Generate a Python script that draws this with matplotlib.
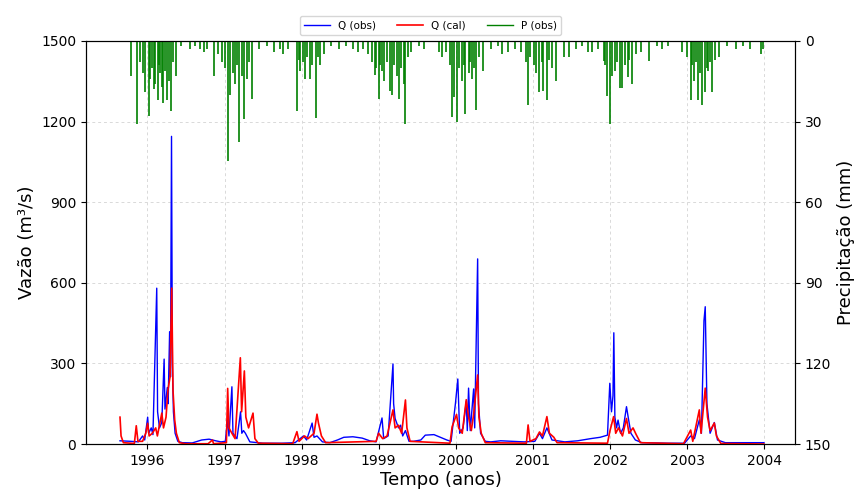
import matplotlib
matplotlib.use("Agg")
import matplotlib.pyplot as plt
import matplotlib.dates as mdates
import pandas as pd

# Observed discharge (m³/s)
q_obs_dates = [
    "1995-08-25", "1995-10-15", "1995-11-20", "1995-12-10", "1995-12-20",
    "1996-01-03", "1996-01-08", "1996-01-20", "1996-01-28", "1996-02-15",
    "1996-02-19", "1996-02-28", "1996-03-10", "1996-03-21", "1996-03-25",
    "1996-04-05", "1996-04-09", "1996-04-16", "1996-04-20", "1996-04-25",
    "1996-04-29", "1996-05-04", "1996-05-12", "1996-05-25", "1996-06-15",
    "1996-08-01", "1996-09-15", "1996-10-20", "1996-11-20", "1996-12-15",
    "1997-01-05", "1997-01-15", "1997-01-22", "1997-02-05", "1997-02-10",
    "1997-03-01", "1997-03-18", "1997-03-24", "1997-04-01", "1997-04-10",
    "1997-05-01", "1997-07-01", "1997-10-01", "1997-12-01", "1998-01-10",
    "1998-01-25", "1998-02-20", "1998-03-01", "1998-03-15", "1998-04-10",
    "1998-05-15", "1998-06-20", "1998-07-20", "1998-09-01", "1998-10-15",
    "1998-11-20", "1998-12-20", "1999-01-17", "1999-01-25", "1999-02-15",
    "1999-03-10", "1999-03-13", "1999-03-20", "1999-04-05", "1999-04-15",
    "1999-04-25", "1999-05-08", "1999-05-25", "1999-06-15", "1999-07-20",
    "1999-08-10", "1999-09-20", "1999-10-20", "1999-11-20", "1999-12-10",
    "1999-12-31", "2000-01-11", "2000-01-20", "2000-02-05", "2000-02-20",
    "2000-02-25", "2000-03-02", "2000-03-10", "2000-03-26", "2000-03-31",
    "2000-04-14", "2000-04-18", "2000-04-28", "2000-05-20", "2000-06-15",
    "2000-08-01", "2000-10-01", "2000-11-20", "2001-01-10", "2001-02-01",
    "2001-02-15", "2001-03-08", "2001-04-01", "2001-06-01", "2001-08-01",
    "2001-10-01", "2001-11-15", "2001-12-20", "2001-12-31", "2002-01-08",
    "2002-01-15", "2002-01-19", "2002-01-24", "2002-02-01", "2002-02-08",
    "2002-02-20", "2002-03-05", "2002-03-20", "2002-03-28", "2002-04-10",
    "2002-05-01", "2002-06-01", "2002-10-01", "2002-12-20", "2003-01-18",
    "2003-02-05", "2003-02-28", "2003-03-10", "2003-03-22", "2003-03-28",
    "2003-04-05", "2003-04-20", "2003-05-10", "2003-05-25", "2003-07-01",
    "2003-12-31",
]
q_obs = [
    12, 10, 8, 30, 15,
    100, 40, 60, 35, 580,
    120, 60, 80, 316, 130,
    210, 150, 418, 250, 1145,
    300, 120, 40, 10, 5,
    4, 15, 18, 12, 8,
    10, 90, 30, 213, 40,
    20, 120, 40, 50, 40,
    8, 3, 3, 5, 30,
    15, 78, 25, 30, 8,
    5, 15, 25, 27, 22,
    12, 8, 97, 20, 30,
    298, 150, 95, 60, 70,
    30, 50, 10, 10, 15,
    33, 35, 25, 15, 10,
    152, 242, 40, 60, 158,
    50, 208, 50, 205, 60,
    689, 150, 40, 10, 8,
    12, 10, 8, 10, 40,
    20, 60, 15, 8, 12,
    20, 25, 33, 226, 120,
    180, 414, 100, 60, 89,
    40, 60, 139, 100, 40,
    15, 5, 3, 3, 30,
    20, 90, 40, 459, 511,
    150, 40, 80, 15, 5,
    5,
]

# Calibrated (simulated) discharge (m³/s)
q_cal_dates = [
    "1995-08-25", "1995-08-30", "1995-09-10", "1995-11-01", "1995-11-10",
    "1995-11-18", "1995-12-10", "1995-12-25", "1996-01-03", "1996-01-10",
    "1996-01-25", "1996-02-10", "1996-02-18", "1996-03-10", "1996-03-18",
    "1996-03-30", "1996-04-08", "1996-04-18", "1996-04-26", "1996-05-02",
    "1996-05-10", "1996-05-18", "1996-06-01", "1996-07-01", "1996-10-15",
    "1996-11-05", "1996-11-10", "1997-01-10", "1997-01-16", "1997-01-22",
    "1997-02-05", "1997-02-20", "1997-03-17", "1997-03-23", "1997-04-05",
    "1997-04-12", "1997-04-25", "1997-05-16", "1997-05-25", "1997-06-10",
    "1997-11-20", "1997-12-10", "1997-12-20", "1998-01-15", "1998-02-01",
    "1998-03-01", "1998-03-15", "1998-03-22", "1998-04-05", "1998-04-25",
    "1998-12-20", "1999-01-01", "1999-01-20", "1999-02-10", "1999-03-10",
    "1999-03-20", "1999-04-05", "1999-04-20", "1999-05-08", "1999-05-15",
    "1999-05-30", "1999-12-05", "1999-12-15", "2000-01-05", "2000-01-15",
    "2000-02-01", "2000-02-20", "2000-03-02", "2000-03-15", "2000-03-26",
    "2000-04-14", "2000-04-20", "2000-05-01", "2000-05-20", "2000-12-01",
    "2000-12-09", "2000-12-18", "2001-01-15", "2001-02-01", "2001-02-15",
    "2001-03-08", "2001-03-20", "2001-04-10", "2001-04-25", "2001-12-20",
    "2002-01-01", "2002-01-18", "2002-01-28", "2002-02-10", "2002-03-01",
    "2002-03-20", "2002-04-01", "2002-04-20", "2002-05-05", "2002-05-25",
    "2002-12-15", "2003-01-18", "2003-01-28", "2003-02-28", "2003-03-08",
    "2003-03-28", "2003-04-08", "2003-04-20", "2003-05-10", "2003-05-20",
    "2003-06-10", "2003-12-31",
]
q_cal = [
    100, 30, 5, 2, 68,
    10, 10, 40, 77, 30,
    40, 60, 30, 115, 60,
    100, 200, 250, 580, 200,
    90, 40, 5, 1, 1,
    15, 1, 5, 207, 60,
    40, 20, 321, 120, 272,
    100, 60, 115, 20, 3,
    1, 46, 10, 30, 20,
    40, 111, 78, 30, 5,
    10, 40, 20, 30, 127,
    60, 70, 40, 164, 60,
    10, 3, 64, 110, 60,
    40, 165, 100, 50, 110,
    257, 100, 40, 5, 3,
    71, 10, 20, 45, 30,
    102, 40, 25, 5, 3,
    50, 102, 40, 60, 30,
    95, 40, 60, 35, 5,
    1, 52, 10, 127, 40,
    208, 100, 50, 78, 30,
    2, 0,
]

# Observed daily precipitation (mm)
p_dates = [
    "1995-10-17", "1995-11-13", "1995-11-29", "1995-12-13", "1995-12-22",
    "1996-01-07", "1996-01-15", "1996-01-23", "1996-01-31", "1996-02-08",
    "1996-02-19", "1996-02-25", "1996-03-03", "1996-03-10", "1996-03-15",
    "1996-03-24", "1996-04-03", "1996-04-12", "1996-04-22", "1996-05-01",
    "1996-05-17", "1996-06-10", "1996-07-20", "1996-08-15", "1996-09-05",
    "1996-09-25", "1996-10-10", "1996-11-10", "1996-12-03", "1996-12-20",
    "1997-01-01", "1997-01-16", "1997-01-28", "1997-02-09", "1997-02-21",
    "1997-03-02", "1997-03-13", "1997-03-23", "1997-04-05", "1997-04-18",
    "1997-04-29", "1997-05-11", "1997-06-15", "1997-07-20", "1997-08-25",
    "1997-09-20", "1997-10-07", "1997-10-30", "1997-12-10", "1997-12-19",
    "1997-12-26", "1998-01-07", "1998-01-19", "1998-01-28", "1998-02-08",
    "1998-02-21", "1998-03-12", "1998-03-21", "1998-03-31", "1998-04-15",
    "1998-05-20", "1998-06-25", "1998-07-30", "1998-09-01", "1998-09-25",
    "1998-10-20", "1998-11-10", "1998-12-02", "1998-12-13", "1998-12-21",
    "1999-01-01", "1999-01-09", "1999-01-17", "1999-01-28", "1999-02-10",
    "1999-02-22", "1999-03-06", "1999-03-17", "1999-03-27", "1999-04-06",
    "1999-04-16", "1999-04-30", "1999-05-08", "1999-05-20", "1999-06-04",
    "1999-07-10", "1999-08-05", "1999-10-13", "1999-10-29", "1999-11-15",
    "1999-12-05", "1999-12-15", "1999-12-26", "2000-01-08", "2000-01-18",
    "2000-02-01", "2000-02-09", "2000-02-16", "2000-03-03", "2000-03-10",
    "2000-03-19", "2000-03-30", "2000-04-08", "2000-04-22", "2000-05-10",
    "2000-06-15", "2000-07-20", "2000-08-08", "2000-09-07", "2000-10-10",
    "2000-11-05", "2000-11-29", "2000-12-09", "2000-12-20", "2001-01-05",
    "2001-01-17", "2001-01-29", "2001-02-11", "2001-02-19", "2001-03-09",
    "2001-03-20", "2001-04-03", "2001-04-22", "2001-05-26", "2001-06-22",
    "2001-07-25", "2001-08-20", "2001-09-20", "2001-10-09", "2001-11-03",
    "2001-12-03", "2001-12-10", "2001-12-17", "2001-12-30", "2002-01-10",
    "2002-01-23", "2002-02-03", "2002-02-15", "2002-02-28", "2002-03-12",
    "2002-03-25", "2002-04-03", "2002-04-13", "2002-05-02", "2002-05-26",
    "2002-07-04", "2002-08-10", "2002-09-05", "2002-10-01", "2002-12-09",
    "2002-12-30", "2003-01-18", "2003-01-26", "2003-02-03", "2003-02-13",
    "2003-02-23", "2003-03-04", "2003-03-14", "2003-03-27", "2003-04-04",
    "2003-04-12", "2003-04-21", "2003-04-28", "2003-05-13", "2003-05-30",
    "2003-07-10", "2003-08-20", "2003-09-25", "2003-10-25", "2003-12-16",
    "2003-12-28",
]
p_obs = [
    13, 31, 8, 12, 19,
    28, 14, 10, 18, 16,
    22, 9, 12, 17, 23,
    11, 22, 15, 26, 8,
    13, 2, 3, 2, 3,
    4, 3, 13, 5, 8,
    10, 44.5, 20, 12, 16,
    9, 37.6, 13, 29, 14,
    8, 21.6, 3, 2, 4,
    3, 5, 3, 26, 7,
    11, 8, 14, 6, 14,
    9, 28.6, 6, 9, 5,
    2, 3, 2, 3, 4,
    3, 5, 8, 12.5, 10,
    21.6, 9, 11, 15, 8,
    18.7, 20, 9, 13, 21.6,
    10, 16, 30.9, 6, 4,
    2, 3, 4, 6, 4,
    9, 28.4, 21, 30, 10,
    15, 9, 27, 12, 8,
    14, 10, 25.5, 6, 11,
    3, 2, 5, 4, 3,
    4, 8, 23.7, 6, 9,
    12, 19, 8, 18.6, 21.8,
    7, 10, 14.8, 6, 6,
    3, 2, 4, 4, 3,
    7.5, 9, 20.6, 30.9, 13,
    11, 8, 17.6, 17.4, 9,
    13.5, 7, 16, 5, 4,
    7.6, 2, 3, 2, 4,
    6, 21.8, 9, 15, 8,
    21.8, 12, 24, 19, 10,
    11, 8, 19, 7, 6,
    2, 3, 2, 3, 5,
    3,
]

q_ticks = [0, 300, 600, 900, 1200, 1500]
p_ticks = [0, 30, 60, 90, 120, 150]

fig = plt.figure(figsize=(8.61, 4.98), dpi=100)
ax = fig.add_axes([0.0999, 0.1084, 0.8234, 0.8093])

t_obs = pd.to_datetime(q_obs_dates)
t_cal = pd.to_datetime(q_cal_dates)
t_p = pd.to_datetime(p_dates)

h_obs, = ax.plot(t_obs, q_obs, color="blue", lw=1.0, label="Q (obs)")
h_cal, = ax.plot(t_cal, q_cal, color="red", lw=1.2, label="Q (cal)")
ax.set_ylim(0, 1500)
ax.set_yticks(q_ticks)
ax.set_ylabel("Vazão (m³/s)", fontsize=13)
ax.set_xlabel("Tempo (anos)", fontsize=13, labelpad=2)
ax.xaxis.set_major_locator(mdates.YearLocator())
ax.xaxis.set_major_formatter(mdates.DateFormatter("%Y"))
ax.tick_params(labelsize=10)
ax.grid(True, linestyle=(0, (3, 3)), color="#d9d9d9", linewidth=0.7)
ax.set_axisbelow(True)

ax2 = ax.twinx()
ax2.vlines(t_p, 0, p_obs, color="green", lw=1.2)
h_p, = ax2.plot([], [], color="green", lw=1.0, label="P (obs)")
ax2.set_ylim(150, 0)
ax2.set_yticks(p_ticks)
ax2.set_ylabel("Precipitação (mm)", fontsize=13)
ax2.tick_params(labelsize=10)

ax.set_xlim(pd.Timestamp("1995-03-17"), pd.Timestamp("2004-05-26"))

fig.legend(handles=[h_obs, h_cal, h_p], loc="lower center",
           bbox_to_anchor=(0.5, 0.92), ncol=3, fontsize=7.5,
           frameon=True, handlelength=2.5, columnspacing=2.0)

fig.savefig("out.png", dpi=100)
